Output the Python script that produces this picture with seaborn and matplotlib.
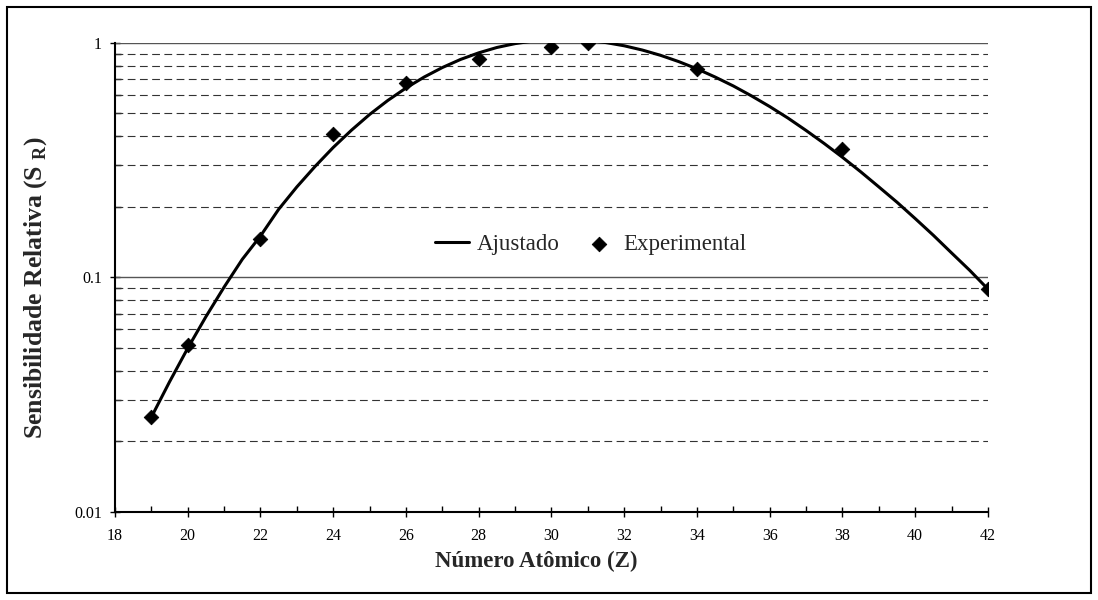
import numpy as np
import pandas as pd
import seaborn as sns
import matplotlib.pyplot as plt
from matplotlib.patches import Rectangle
from matplotlib.ticker import FixedLocator, FixedFormatter, MultipleLocator

sns.set_style('white')
plt.rcParams['font.family'] = ['Liberation Serif', 'DejaVu Serif']
plt.rcParams['mathtext.fontset'] = 'custom'
plt.rcParams['mathtext.rm'] = 'Liberation Serif:bold'

###----- Data -----###
# experimental points
z_exp = [19, 20, 22, 24, 26, 28, 30, 31, 34, 38, 42]
s_exp = [0.0253, 0.0513, 0.145, 0.407, 0.676, 0.851, 0.963, 0.996, 0.774, 0.352, 0.089]
z_fit = [19, 19.5, 20, 20.5, 21, 21.5, 22, 22.5, 23, 23.5, 24, 24.5,
         25, 25.5, 26, 26.5, 27, 27.5, 28, 28.5, 29, 29.5, 30, 30.5,
         31, 31.5, 32, 32.5, 33, 33.5, 34, 34.5, 35, 35.5, 36, 36.5,
         37, 37.5, 38, 38.5, 39, 39.5, 40, 40.5, 41, 41.5, 42]
s_fit = [0.0253, 0.0358, 0.0498, 0.0679, 0.0908, 0.1193, 0.150, 0.195, 0.243, 0.297, 0.358, 0.424,
         0.495, 0.568, 0.642, 0.715, 0.785, 0.850, 0.907, 0.956, 0.993, 1.019, 1.033, 1.034,
         1.024, 1.003, 0.972, 0.932, 0.885, 0.832, 0.775, 0.715, 0.655, 0.594, 0.535, 0.478,
         0.423, 0.372, 0.325, 0.282, 0.243, 0.209, 0.178, 0.151, 0.127, 0.107, 0.089]

y_major = [0.01, 0.1, 1]
y_major_labels = ['0.01', '0.1', '1']
y_minor = [m * d for d in (0.01, 0.1) for m in range(2, 10)]

df_exp = pd.DataFrame({'Z': z_exp, 'S': s_exp})
df_fit = pd.DataFrame({'Z': z_fit, 'S': s_fit})

###----- Plot -----###
fig = plt.figure(figsize=(10.98, 6.0), dpi=100)
ax = fig.add_axes([0.1047, 0.1472, 0.7951, 0.7813])

# dashed minor grid + solid major grid
for v in y_minor:
    ax.axhline(v, color='#333333', lw=0.8, ls=(0, (7, 4)), zorder=1)
for v in y_major[1:]:
    ax.axhline(v, color='#555555', lw=1.0, zorder=1)

sns.lineplot(data=df_fit, x='Z', y='S', color='black', lw=2.2, ax=ax,
             label='Ajustado', zorder=3)
sns.scatterplot(data=df_exp, x='Z', y='S', marker='D', s=55, color='black',
                edgecolor='black', ax=ax, label='Experimental', zorder=4)

ax.set_yscale('log')
ax.set_xlim(18, 42)
ax.set_ylim(0.01, 1)

ax.xaxis.set_major_locator(MultipleLocator(2))
ax.xaxis.set_minor_locator(MultipleLocator(1))
ax.yaxis.set_major_locator(FixedLocator(y_major))
ax.yaxis.set_major_formatter(FixedFormatter(y_major_labels))
ax.yaxis.set_minor_locator(FixedLocator(y_minor))
ax.yaxis.set_minor_formatter(FixedFormatter([''] * len(y_minor)))

ax.tick_params(which='major', direction='inout', length=7, width=1,
               color='black', labelsize=11.5, labelcolor='black', pad=6)
ax.tick_params(axis='x', which='major', pad=8)
ax.tick_params(which='minor', direction='in', length=4, width=1, color='black')
ax.tick_params(axis='x', which='both', bottom=True, top=False)
ax.tick_params(axis='y', which='both', left=True, right=False)

for side in ['top', 'right']:
    ax.spines[side].set_visible(False)
for side in ['left', 'bottom']:
    ax.spines[side].set_color('black')
    ax.spines[side].set_linewidth(1.5)

ax.set_xlabel('Número Atômico (Z)', fontsize=16.5, fontweight='bold')
ax.xaxis.set_label_coords(0.483, -0.083)
ax.set_ylabel('Sensibilidade Relativa (S $_{\\rm R}$)', fontsize=18.5, fontweight='bold')
ax.yaxis.set_label_coords(-0.075, 0.479)

leg = ax.legend(loc='center', bbox_to_anchor=(0.545, 0.569), ncol=2, frameon=False,
                fontsize=16.5, handlelength=1.5, handletextpad=0.3, columnspacing=1.0)
leg.legend_handles[0].set_linewidth(2.2)

# chart border
fig.patches.append(Rectangle((0.0065, 0.012), 0.987, 0.976, transform=fig.transFigure,
                             fill=False, edgecolor='black', lw=1.5))

fig.savefig('out.png', dpi=100, facecolor='white')
